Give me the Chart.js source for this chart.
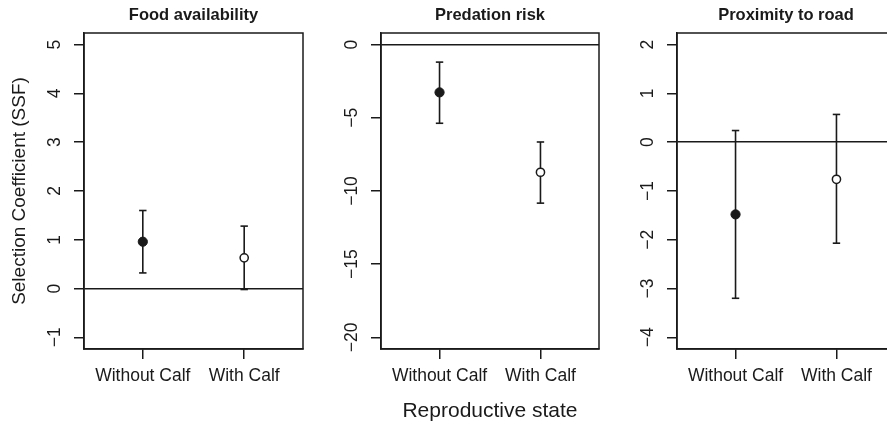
<!DOCTYPE html>
<html><head><meta charset="utf-8">
<script src="https://cdn.jsdelivr.net/npm/chart.js@4"></script>
<style>
html,body{margin:0;padding:0;background:#fff;}
#wrap{position:relative;width:887px;height:427px;overflow:hidden;background:#fff;}
canvas{position:absolute;top:0;}
</style></head><body>
<div id="wrap">
<canvas id="c1" width="305" height="427" style="left:0px"></canvas>
<canvas id="c2" width="296" height="427" style="left:305px"></canvas>
<canvas id="c3" width="296" height="427" style="left:601px"></canvas>
</div>
<script>
// ---- data ----
const categories = ['Without Calf', 'With Calf'];
const panelTitles = ['Food availability', 'Predation risk', 'Proximity to road'];
const yLabel = 'Selection Coefficient (SSF)';
const xLabel = 'Reproductive state';

const foodEst = [0.96, 0.63];
const foodLower = [0.32, -0.02];
const foodUpper = [1.60, 1.28];

const predEst = [-3.26, -8.72];
const predLower = [-5.37, -10.83];
const predUpper = [-1.19, -6.65];

const roadEst = [-1.48, -0.76];
const roadLower = [-3.20, -2.07];
const roadUpper = [0.24, 0.57];

const foodTicks = [-1, 0, 1, 2, 3, 4, 5];
const predTicks = [-20, -15, -10, -5, 0];
const roadTicks = [-4, -3, -2, -1, 0, 1, 2];

// ---- style ----
const ink = '#1a1a1a';
Chart.defaults.font.family = '"Liberation Sans", Arial, Helvetica, sans-serif';
Chart.defaults.color = ink;

const boxPlugin = {
  id: 'box',
  afterDraw(chart) {
    const { ctx, chartArea: a } = chart;
    ctx.save();
    ctx.strokeStyle = ink;
    ctx.lineWidth = 1.5;
    ctx.strokeRect(a.left, a.top, a.right - a.left, a.bottom - a.top);
    ctx.restore();
  }
};

function ext(lo, hi) { const d = (hi - lo) * 0.04; return [lo - d, hi + d]; }
function fmt(v) { return v < 0 ? '\u2212' + Math.abs(v) : String(v); }

function makePanel(canvasId, opts) {
  const { title, est, lower, upper, ticks, axisWidth, tickPad, showY, showX } = opts;
  const datasets = [];
  categories.forEach((c, i) => {
    datasets.push({
      data: [{ x: i + 1, y: lower[i] }, { x: i + 1, y: upper[i] }],
      showLine: true,
      borderColor: ink,
      borderWidth: 1.6,
      pointStyle: 'line',
      pointRadius: 3.7,
      pointBorderWidth: 1.6,
      pointBorderColor: ink,
      order: 2
    });
  });
  categories.forEach((c, i) => {
    datasets.push({
      data: [{ x: i + 1, y: est[i] }],
      showLine: false,
      pointStyle: 'circle',
      pointRadius: i === 0 ? 4.6 : 4.1,
      pointBackgroundColor: i === 0 ? ink : '#ffffff',
      pointBorderColor: ink,
      pointBorderWidth: i === 0 ? 1 : 1.5,
      order: 0
    });
  });
  const [xmin, xmax] = ext(0.5, categories.length + 0.5);
  const [ymin, ymax] = ext(ticks[0], ticks[ticks.length - 1]);
  return new Chart(document.getElementById(canvasId), {
    type: 'scatter',
    data: { datasets },
    options: {
      responsive: false,
      animation: false,
      devicePixelRatio: 1,
      events: [],
      layout: { autoPadding: false, padding: { left: 0, top: 0, right: 2, bottom: 0 } },
      plugins: {
        legend: { display: false },
        tooltip: { enabled: false },
        title: {
          display: true, text: title, fullSize: false, color: ink,
          font: { size: 16.5, weight: 'bold' },
          padding: { top: 5.3, bottom: 7.9 }
        }
      },
      scales: {
        x: {
          type: 'linear', min: xmin, max: xmax,
          afterBuildTicks: s => { s.ticks = categories.map((c, i) => ({ value: i + 1 })); },
          afterFit: s => { s.height = 78; },
          ticks: {
            callback: v => categories[Math.round(v) - 1],
            font: { size: 17.5 }, color: ink, padding: 6.5,
            minRotation: 0, maxRotation: 0, autoSkip: false
          },
          grid: { drawOnChartArea: false, color: ink, tickColor: ink, tickLength: 10, lineWidth: 1.5, tickWidth: 1.5 },
          border: { display: true, color: ink, width: 1.5 },
          title: { display: showX, text: xLabel, color: ink, font: { size: 21 }, padding: { top: 0, bottom: 3.4 } }
        },
        y: {
          type: 'linear', min: ymin, max: ymax,
          afterBuildTicks: s => { s.ticks = ticks.map(v => ({ value: v })); },
          afterFit: s => { s.width = axisWidth; },
          ticks: {
            callback: v => fmt(v),
            font: { size: 17.5 }, color: ink, padding: tickPad,
            minRotation: 90, maxRotation: 90, crossAlign: 'center', autoSkip: false
          },
          grid: {
            drawOnChartArea: true,
            color: c => (c.tick && c.tick.value === 0) ? ink : 'rgba(0,0,0,0)',
            tickColor: ink, tickLength: 10, lineWidth: 1.5, tickWidth: 1.5
          },
          border: { display: true, color: ink, width: 1.5 },
          title: { display: showY, text: yLabel, color: ink, font: { size: 19 }, padding: { top: 8.6, bottom: 0 } }
        }
      }
    },
    plugins: [boxPlugin]
  });
}

makePanel('c1', { title: panelTitles[0], est: foodEst, lower: foodLower, upper: foodUpper, ticks: foodTicks, axisWidth: 84, tickPad: 9, showY: true, showX: false });
makePanel('c2', { title: panelTitles[1], est: predEst, lower: predLower, upper: predUpper, ticks: predTicks, axisWidth: 76, tickPad: 4, showY: false, showX: true });
makePanel('c3', { title: panelTitles[2], est: roadEst, lower: roadLower, upper: roadUpper, ticks: roadTicks, axisWidth: 76, tickPad: 9, showY: false, showX: false });
</script>
</body></html>
